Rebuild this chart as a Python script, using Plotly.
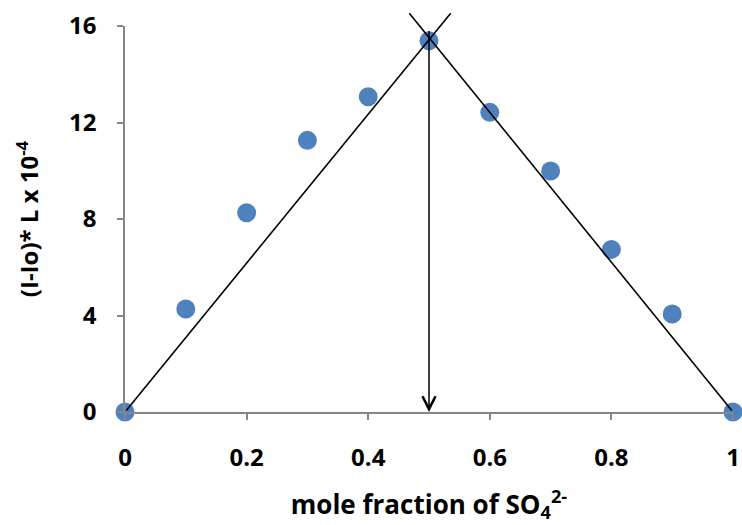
import plotly.graph_objects as go

# data
mole_fraction = [0, 0.1, 0.2, 0.3, 0.4, 0.5, 0.6, 0.7, 0.8, 0.9, 1.0]
signal = [0, 4.27, 8.26, 11.26, 13.07, 15.39, 12.42, 9.99, 6.74, 4.06, 0]

# tangent lines (start, end)
left_line_x = [0, 0.5357]
left_line_y = [0, 16.53]
right_line_x = [1.0, 0.4676]
right_line_y = [0, 16.53]
arrow_x = [0.5, 0.5]
arrow_y = [15.86, 0]

x_ticks = [0, 0.2, 0.4, 0.6, 0.8, 1]
x_tick_text = ["0", "0.2", "0.4", "0.6", "0.8", "1"]
y_ticks = [0, 4, 8, 12, 16]
y_tick_text = ["0", "4", "8", "12", "16"]

FONT = "Open Sans"
AXIS_COLOR = "#868686"

fig = go.Figure()
fig.add_trace(go.Scatter(
    x=mole_fraction, y=signal, mode="markers",
    marker=dict(color="#4F81BD", size=19, line=dict(width=0)),
    cliponaxis=False, showlegend=False,
))

annotations = []
for xs, ys in [(left_line_x, left_line_y), (right_line_x, right_line_y)]:
    annotations.append(dict(
        x=xs[1], y=ys[1], ax=xs[0], ay=ys[0],
        xref="x", yref="y", axref="x", ayref="y",
        text="", showarrow=True, arrowhead=0, arrowwidth=1.6,
        arrowcolor="black", standoff=0, startstandoff=0,
    ))
annotations.append(dict(
    x=arrow_x[1], y=arrow_y[1], ax=arrow_x[0], ay=arrow_y[0],
    xref="x", yref="y", axref="x", ayref="y",
    text="", showarrow=True, arrowhead=5, arrowsize=1.7, arrowwidth=1.5,
    arrowcolor="black", standoff=0, startstandoff=0,
))

tick_font = dict(family=FONT, size=24, color="black")
title_font = dict(family=FONT, size=26, color="black")

fig.update_layout(
    width=742, height=525,
    margin=dict(l=125, r=9, t=26, b=113),
    plot_bgcolor="white", paper_bgcolor="white",
    annotations=annotations,
    xaxis=dict(
        range=[0, 1], tickvals=x_ticks, ticktext=["<b>%s</b>" % t for t in x_tick_text],
        showgrid=False, zeroline=False, showline=True, linecolor=AXIS_COLOR, linewidth=1.5,
        ticks="outside", ticklen=6, tickcolor=AXIS_COLOR, tickwidth=1.5,
        tickfont=tick_font, ticklabelstandoff=17, automargin=False,
        title=dict(text="<b>mole fraction of SO<sub>4</sub><sup>2-</sup></b>",
                   font=title_font, standoff=24),
    ),
    yaxis=dict(
        range=[0, 16], tickvals=y_ticks, ticktext=["<b>%s</b>" % t for t in y_tick_text],
        showgrid=False, zeroline=False, showline=True, linecolor=AXIS_COLOR, linewidth=1.5,
        ticks="outside", ticklen=6, tickcolor=AXIS_COLOR, tickwidth=1.5,
        tickfont=tick_font, ticklabelstandoff=16, automargin=False,
        title=dict(text="<b>(I-Io)* L x 10<sup>-4</sup></b>",
                   font=dict(family=FONT, size=24, color="black"), standoff=24),
    ),
)

fig.write_html("out.html")
